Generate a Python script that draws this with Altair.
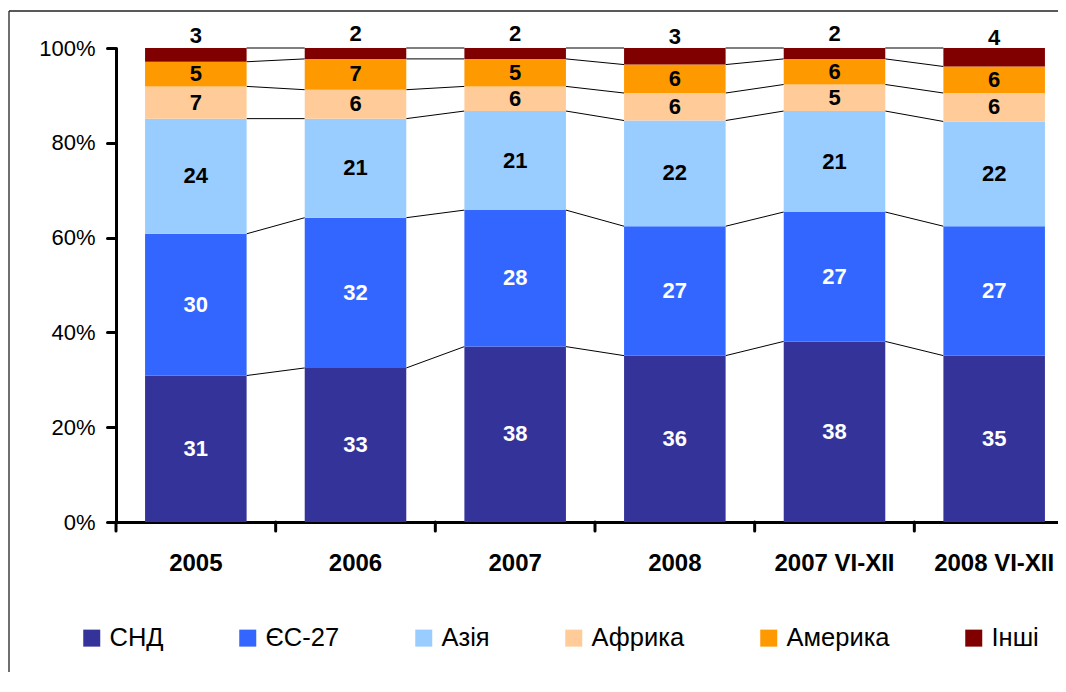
import altair as alt
import pandas as pd

categories = ["2005", "2006", "2007", "2008", "2007 VI-XII", "2008 VI-XII"]
series = ["СНД", "ЄС-27", "Азія", "Африка", "Америка", "Інші"]
colors = ["#333399", "#3366FF", "#99CCFF", "#FFCC99", "#FF9900", "#800000"]

# shares (%)
snd = [30.9, 32.5, 37.0, 35.1, 38.1, 35.1]
es27 = [29.9, 31.7, 28.8, 27.3, 27.3, 27.3]
asia = [24.3, 20.9, 20.9, 22.3, 21.3, 22.1]
africa = [6.8, 6.1, 5.2, 5.8, 5.6, 6.0]
america = [5.2, 6.5, 5.8, 6.0, 5.4, 5.6]
other = [2.9, 2.3, 2.3, 3.5, 2.3, 3.9]

# printed data labels
lbl_snd = [31, 33, 38, 36, 38, 35]
lbl_es27 = [30, 32, 28, 27, 27, 27]
lbl_asia = [24, 21, 21, 22, 21, 22]
lbl_africa = [7, 6, 6, 6, 5, 6]
lbl_america = [5, 7, 5, 6, 6, 6]
lbl_other = [3, 2, 2, 3, 2, 4]

y_ticks = [0, 20, 40, 60, 80, 100]

shares = [snd, es27, asia, africa, america, other]
labels = [lbl_snd, lbl_es27, lbl_asia, lbl_africa, lbl_america, lbl_other]

rows = []
for ci, cat in enumerate(categories):
    cum = 0.0
    for si, s in enumerate(series):
        v = shares[si][ci]
        rows.append(dict(cat=cat, series=s, si=si, lo=cum, hi=cum + v,
                         mid=cum + v / 2, label=str(labels[si][ci])))
        cum += v
df = pd.DataFrame(rows)

links = []
for i in range(len(categories) - 1):
    ca, cb = categories[i], categories[i + 1]
    for s in series:
        ya = df[(df.cat == ca) & (df.series == s)].hi.iloc[0]
        yb = df[(df.cat == cb) & (df.series == s)].hi.iloc[0]
        links.append(dict(cat=ca, cb=cb, ya=ya, yb=yb))
links_df = pd.DataFrame(links)
cats_df = pd.DataFrame({"cat": categories})

FONT = "Liberation Sans"
W, H = 942, 474
XR = 958  # band range, runs past the clipped right edge like the original
PI = 0.364
STEP = XR / len(categories)
HALF = STEP * (1 - PI) / 2
GAP2 = STEP * PI / 2

xscale = alt.Scale(domain=categories, range=[0, XR],
                   paddingInner=PI, paddingOuter=PI / 2)
yscale = alt.Scale(domain=[0, 100], nice=False)

xaxis = alt.Axis(title=None, labelAngle=0, labelAlign="center",
                 labelBaseline="top", labelFont=FONT, labelFontSize=24,
                 labelFontWeight="bold", labelColor="black", ticks=False,
                 tickSize=0, domainWidth=3, domainColor="black",
                 labelPadding=29)
yaxis = alt.Axis(title=None, values=y_ticks, labelExpr="datum.value + '%'",
                 labelFont=FONT, labelFontSize=22, labelColor="black",
                 tickSize=9, tickWidth=3, tickColor="black", domainWidth=3,
                 domainColor="black", labelPadding=12, grid=False, tickCap="round")

bars = alt.Chart(df).mark_bar().encode(
    x=alt.X("cat:N", sort=categories, scale=xscale, axis=xaxis),
    y=alt.Y("lo:Q", scale=yscale, axis=yaxis),
    y2="hi:Q",
    color=alt.Color("series:N", sort=series,
                    scale=alt.Scale(domain=series, range=colors),
                    legend=alt.Legend(title=None, orient="none", legendX=-37,
                                      legendY=577, direction="horizontal",
                                      columns=6, symbolType="square",
                                      symbolSize=289, symbolStrokeWidth=0,
                                      symbolOpacity=1, labelFont=FONT,
                                      labelFontSize=25.5, labelColor="black",
                                      columnPadding=71, labelOffset=5,
                                      padding=0)),
)

rules = alt.Chart(links_df).mark_rule(color="black", strokeWidth=1,
                                      xOffset=HALF, x2Offset=-HALF).encode(
    x=alt.X("cat:N", sort=categories, scale=xscale, bandPosition=0.5),
    x2=alt.X2("cb:N", bandPosition=0.5),
    y=alt.Y("ya:Q", scale=yscale),
    y2="yb:Q",
)

xticks = alt.Chart(cats_df).mark_rule(color="black", strokeWidth=3,
                                      strokeCap="round", xOffset=-GAP2).encode(
    x=alt.X("cat:N", sort=categories, scale=xscale, bandPosition=0),
    y=alt.value(H), y2=alt.value(H + 9),
)

white_lbl = alt.Chart(df[df.si < 2]).mark_text(
    font=FONT, fontSize=22, fontWeight="bold", color="white", baseline="middle"
).encode(x=alt.X("cat:N", sort=categories, scale=xscale),
         y=alt.Y("mid:Q", scale=yscale), text="label:N")

black_lbl = alt.Chart(df[(df.si >= 2) & (df.si < 5)]).mark_text(
    font=FONT, fontSize=22, fontWeight="bold", color="black", baseline="middle"
).encode(x=alt.X("cat:N", sort=categories, scale=xscale),
         y=alt.Y("mid:Q", scale=yscale), text="label:N")

top_lbl = alt.Chart(df[df.si == 5]).mark_text(
    font=FONT, fontSize=22, fontWeight="bold", color="black", baseline="middle",
    dy=-19
).encode(x=alt.X("cat:N", sort=categories, scale=xscale),
         y=alt.Y("mid:Q", scale=yscale), text="label:N")

frame_df = pd.DataFrame({"f": [0]})
frame_left = alt.Chart(frame_df).mark_rule(color="#222", strokeWidth=1.3).encode(
    x=alt.value(-107), y=alt.value(-37), y2=alt.value(800))
frame_top = alt.Chart(frame_df).mark_rule(color="#222", strokeWidth=1.3).encode(
    x=alt.value(-107), x2=alt.value(1200), y=alt.value(-37))

chart = alt.layer(rules, bars, xticks, white_lbl, black_lbl, top_lbl,
                  frame_left, frame_top).properties(
    width=W, height=H,
    autosize=alt.AutoSizeParams(type="none"),
    padding={"left": 108, "top": 40, "right": 0, "bottom": 150},
    background="white",
).configure_view(stroke=None)

chart.save("out.html", embed_options={"renderer": "svg", "actions": False})
